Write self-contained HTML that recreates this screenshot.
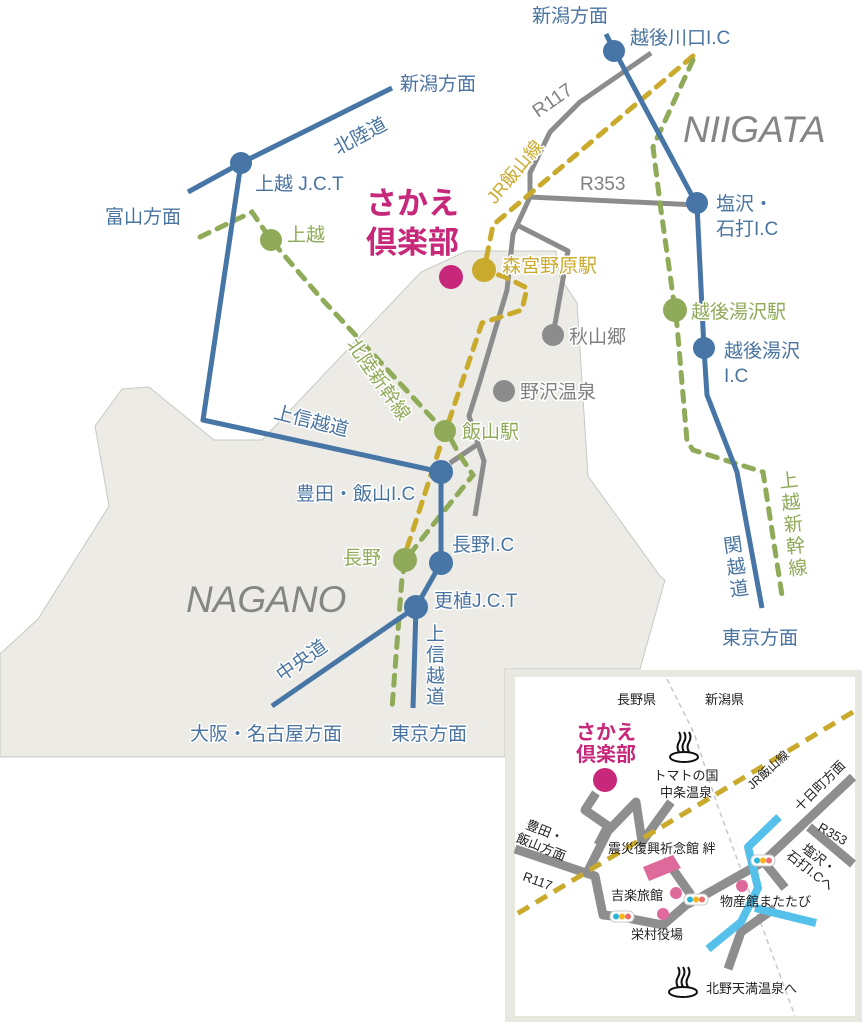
<!DOCTYPE html>
<html><head><meta charset="utf-8"><style>
html,body{margin:0;padding:0;background:#fff;}
svg{display:block;}
text{font-family:"Liberation Sans","Noto Sans CJK JP",sans-serif;}
.h{paint-order:stroke;stroke:#fff;stroke-width:3px;stroke-linejoin:round;}
.b{fill:#4a74a0}.g{fill:#8faa58}.y{fill:#c9aa2c}.k{fill:#808080}.m{fill:#c8287a;font-weight:bold}
</style></head><body>
<svg width="865" height="1024" viewBox="0 0 865 1024" xmlns="http://www.w3.org/2000/svg">
<polygon points="0,654 38,619 109,506 95,426 122,389 149,387 214,440 262,440 421,272 467,251 556,251 560,277 577,303 588,476 660,576 665,580 640,669 505,669 505,757 0,757" fill="#ecebe6" stroke="#c8c8c4" stroke-width="1"/>
<rect x="505" y="670" width="357" height="352" fill="#e8e7e0"/>
<rect x="515" y="677" width="340" height="339" fill="#fff"/>

<g fill="none" stroke="#8c8c8c" stroke-width="5" stroke-linejoin="round">
<polyline points="651,53 580,102 550,132 530,173 530,197 513,234 507,290 480,381 469,416 478,444 450,463"/>
<polyline points="478,444 484,461 475,516"/>
<polyline points="530,197 697,205"/>
<polyline points="517,225 568,251 553,335"/>
</g>
<circle cx="553" cy="335" r="11" fill="#8c8c8c"/>
<circle cx="504" cy="391" r="11" fill="#8c8c8c"/>

<polyline points="693,56 493,225 484,270 505,277 527,288 522,310 482,323 453,409 440,447 413,530 406,551" fill="none" stroke="#c9aa2c" stroke-width="5" stroke-dasharray="10,9" stroke-linecap="round"/>
<g fill="none" stroke="#8faa58" stroke-width="5" stroke-dasharray="10,9" stroke-linecap="round">
<polyline points="200,237 252,212 271,240 320,297 360,340 432,418 446,430 459,454 473,475 432,526 406,559 402,578 392,709"/>
<polyline points="693,60 653,147 660,203 675,310 677,325 687,441 693,450 763,472 783,602"/>
</g>

<g fill="none" stroke="#4675a6" stroke-width="5" stroke-linejoin="round">
<polyline points="188,192 241,163 392,88"/>
<polyline points="241,163 203,420 441,472 441,563 416,607 413,708"/>
<polyline points="416,607 272,706"/>
<polyline points="606,34 613,48 697,205 704,349 707,395 737,472 762,608"/>
</g>
<g fill="#4675a6">
<circle cx="241" cy="163" r="11"/><circle cx="441" cy="472" r="12"/><circle cx="441" cy="563" r="12"/>
<circle cx="416" cy="607" r="12"/><circle cx="614" cy="51" r="11"/><circle cx="697" cy="203" r="11"/><circle cx="704" cy="348" r="11"/>
</g>
<g fill="#8faa58">
<circle cx="271" cy="240" r="11"/><circle cx="445" cy="431" r="11"/><circle cx="405" cy="560" r="12"/><circle cx="675" cy="310" r="12"/>
</g>
<circle cx="484" cy="270" r="12" fill="#c9aa2c"/>
<circle cx="451" cy="277" r="12" fill="#c8287a"/>

<g font-size="19">
<text x="400" y="90" class="b h">新潟方面</text>
<text x="0" y="0" class="b h" transform="translate(338,155) rotate(-28)">北陸道</text>
<text x="255" y="190" class="b h">上越 J.C.T</text>
<text x="105" y="223" class="b h">富山方面</text>
<text x="0" y="0" class="b h" transform="translate(273,418) rotate(14)">上信越道</text>
<text x="296" y="500" class="b h">豊田・飯山I.C</text>
<text x="452" y="551" class="b h">長野I.C</text>
<text x="434" y="607" class="b h">更植J.C.T</text>
<text x="0" y="0" class="b h" transform="translate(282,682) rotate(-35)">中央道</text>
<g class="b h"><text x="426" y="640">上</text><text x="426" y="661">信</text><text x="426" y="682">越</text><text x="426" y="703">道</text></g>
<text x="190" y="740" class="b h">大阪・名古屋方面</text>
<text x="391" y="740" class="b h">東京方面</text>
<text x="532" y="22" class="b h">新潟方面</text>
<text x="630" y="44" class="b h">越後川口I.C</text>
<text x="716" y="210" class="b h">塩沢・</text>
<text x="716" y="235" class="b h">石打I.C</text>
<text x="724" y="357" class="b h">越後湯沢</text>
<text x="724" y="382" class="b h">I.C</text>
<g class="b h" transform="translate(722,535) rotate(-8)"><text x="0" y="18">関</text><text x="0" y="40">越</text><text x="0" y="62">道</text></g>
<text x="722" y="644" class="b h">東京方面</text>

<text x="287" y="241" class="g h">上越</text>
<g class="g h" transform="translate(346,344) rotate(55)"><text x="0" y="0">北陸新幹線</text></g>
<text x="462" y="438" class="g h">飯山駅</text>
<text x="343" y="564" class="g h">長野</text>
<text x="691" y="318" class="g h">越後湯沢駅</text>
<g class="g h" transform="translate(778,470) rotate(-6)"><text x="0" y="18">上</text><text x="0" y="40">越</text><text x="0" y="62">新</text><text x="0" y="84">幹</text><text x="0" y="106">線</text></g>

<text x="502" y="272" class="y h">森宮野原駅</text>
<g class="y h" transform="translate(495,205) rotate(-50)"><text x="0" y="0" font-size="18">JR飯山線</text></g>

<g class="k h" transform="translate(538,118) rotate(-35)"><text x="0" y="0">R117</text></g>
<text x="580" y="190" class="k h">R353</text>
<text x="569" y="343" class="k h">秋山郷</text>
<text x="520" y="398" class="k h">野沢温泉</text>
</g>
<text x="186" y="612" font-size="37" font-style="italic" fill="#858585">NAGANO</text>
<text x="683" y="142" font-size="37" font-style="italic" fill="#858585">NIIGATA</text>
<text x="366" y="214" font-size="31" class="m h">さかえ</text>
<text x="366" y="253" font-size="31" class="m h">倶楽部</text>

<polyline points="667,679 694,733 718,807 795,1016" fill="none" stroke="#c8c8c8" stroke-width="1.5" stroke-dasharray="5,4"/>
<g fill="none" stroke="#8e8e8e" stroke-width="9" stroke-linejoin="round">
<polyline points="515,849 595,876 603,915 622,917 663,925 686,905 696,900 763,862 853,777"/>
<polyline points="809,827 853,864"/>
<polyline points="764,862 785,888"/>
<polyline points="775,908 741,932 728,969"/>
<polyline points="596,793 585,810 608,826 598,845"/>
<polyline points="588,871 608,831 636,802 642,842 671,802"/>
<polyline points="662,861 672,868 691,895"/>
</g>
<g fill="none" stroke="#55c1ea" stroke-width="8" stroke-linejoin="round">
<polyline points="779,817 748,847 758,888 741,922 708,949"/>
<polyline points="755,908 816,923"/>
</g>
<polyline points="853,712 515,915" fill="none" stroke="#c9aa2c" stroke-width="5" stroke-dasharray="13,8"/>
<polygon points="643,867 673,855 681,868 649,881" fill="#dd6a9a"/>
<g fill="#dd6a9a"><circle cx="676" cy="893" r="6"/><circle cx="663" cy="914" r="6"/><circle cx="742" cy="886" r="6"/></g>
<g>
<rect x="610" y="911" width="24" height="11" rx="5" fill="#fff" stroke="#ccc"/>
<circle cx="616" cy="916.5" r="3" fill="#2bb5d6"/><circle cx="622" cy="916.5" r="3" fill="#f7b51c"/><circle cx="628" cy="916.5" r="3" fill="#ef6f6f"/>
<rect x="684" y="894" width="24" height="11" rx="5" fill="#fff" stroke="#ccc"/>
<circle cx="690" cy="899.5" r="3" fill="#2bb5d6"/><circle cx="696" cy="899.5" r="3" fill="#f7b51c"/><circle cx="702" cy="899.5" r="3" fill="#ef6f6f"/>
<rect x="751" y="855" width="24" height="11" rx="5" fill="#fff" stroke="#ccc"/>
<circle cx="757" cy="860.5" r="3" fill="#2bb5d6"/><circle cx="763" cy="860.5" r="3" fill="#f7b51c"/><circle cx="769" cy="860.5" r="3" fill="#ef6f6f"/>
</g>
<circle cx="605" cy="780" r="12" fill="#c8287a"/>
<g font-size="13" fill="#222">
<text x="617" y="704">長野県</text>
<text x="705" y="704">新潟県</text>
<text x="686" y="780" text-anchor="middle">トマトの国</text>
<text x="686" y="797" text-anchor="middle">中条温泉</text>
<g transform="translate(752,790) rotate(-42)"><text x="0" y="0" font-size="12">JR飯山線</text></g>
<g transform="translate(525,828) rotate(22)"><text x="0" y="0">豊田・</text><text x="-4" y="16">飯山方面</text></g>
<g transform="translate(522,880) rotate(20)"><text x="0" y="0">R117</text></g>
<text x="608" y="853">震災復興祈念館 絆</text>
<text x="611" y="900">吉楽旅館</text>
<text x="631" y="939">栄村役場</text>
<text x="720" y="906">物産館またたび</text>
<g transform="translate(800,812) rotate(-45)"><text x="0" y="0">十日町方面</text></g>
<g transform="translate(817,830) rotate(30)"><text x="0" y="0">R353</text></g>
<g transform="translate(801,850) rotate(38)"><text x="0" y="0">塩沢・</text><text x="-8" y="15">石打I.Cへ</text></g>
<text x="706" y="993">北野天満温泉へ</text>
</g>
<text x="606" y="739" font-size="20" class="m" text-anchor="middle">さかえ</text>
<text x="606" y="761" font-size="20" class="m" text-anchor="middle">倶楽部</text>
<g fill="none" stroke="#111" stroke-width="2">
<ellipse cx="684" cy="757" rx="14" ry="5"/><path d="M679,752 q-3,-5 0,-10 q3,-5 0,-10 M684,752 q-3,-5 0,-10 q3,-5 0,-10 M689,752 q-3,-5 0,-10 q3,-5 0,-10"/>
<ellipse cx="683" cy="992" rx="14" ry="5"/><path d="M678,987 q-3,-5 0,-10 q3,-5 0,-10 M683,987 q-3,-5 0,-10 q3,-5 0,-10 M688,987 q-3,-5 0,-10 q3,-5 0,-10"/>
</g>
</svg>
</body></html>
